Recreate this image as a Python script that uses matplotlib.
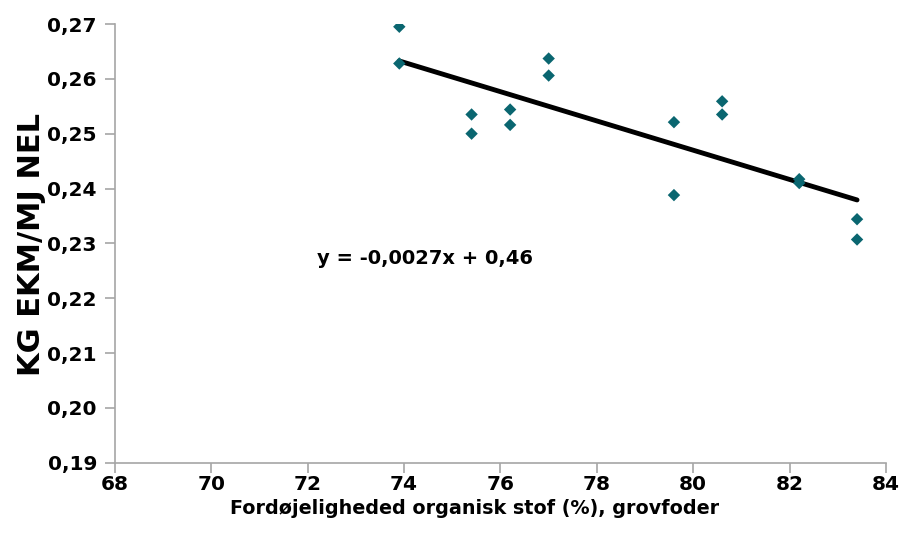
import numpy as np
import matplotlib.pyplot as plt

# digestibility of organic matter (%) in roughage
x_vals = [73.9, 73.9, 75.4, 75.4, 76.2, 76.2, 77.0, 77.0,
          79.6, 79.6, 80.6, 80.6, 82.2, 82.2, 83.4, 83.4]
# kg ECM per MJ NEL
y_vals = [0.2695, 0.2628, 0.2535, 0.2500, 0.2544, 0.2516, 0.2637, 0.2606,
          0.2521, 0.2388, 0.2559, 0.2535, 0.2417, 0.2410, 0.2344, 0.2307]

x_ticks = [68, 70, 72, 74, 76, 78, 80, 82, 84]
y_ticks = [0.19, 0.20, 0.21, 0.22, 0.23, 0.24, 0.25, 0.26, 0.27]

eq_text = "y = -0,0027x + 0,46"
x_title = "Fordøjeligheded organisk stof (%), grovfoder"
y_title = "KG EKM/MJ NEL"

plt.rcParams['font.family'] = ['DejaVu Sans']
plt.rcParams['font.weight'] = 'bold'

fig = plt.figure(figsize=(9, 5.37), dpi=100)
ax = fig.add_axes([0.1278, 0.1384, 0.8566, 0.8169])

x = np.array(x_vals)
y = np.array(y_vals)

# linear trendline
k, b = np.polyfit(x, y, 1)
xl = np.array([x.min(), x.max()])
ax.plot(xl, k * xl + b, color='black', lw=3.5, solid_capstyle='round', zorder=2)

ax.scatter(x, y, marker='D', s=40, color='#0a6670', edgecolors='none', zorder=3)

ax.text(72.2, 0.2273, eq_text, fontsize=14, fontweight='bold', ha='left', va='center')

ax.set_xlim(68, 84)
ax.set_ylim(0.19, 0.27)
ax.set_xticks(x_ticks)
ax.set_yticks(y_ticks)
ax.set_xticklabels([str(v) for v in x_ticks])
ax.set_yticklabels([f"{v:.2f}".replace('.', ',') for v in y_ticks])

for s in ['top', 'right']:
    ax.spines[s].set_visible(False)
for s in ['left', 'bottom']:
    ax.spines[s].set_color('#a6a6a6')
    ax.spines[s].set_linewidth(1.2)

ax.tick_params(axis='both', colors='#a6a6a6', length=7, width=1.2,
               labelcolor='black', labelsize=14.5)
ax.tick_params(axis='x', pad=2)
ax.tick_params(axis='y', pad=6)

# axis titles placed like the original (x title sits a bit left of centre)
fig.text(475 / 900, 1 - 508 / 537, x_title, fontsize=13.8, fontweight='bold',
         ha='center', va='center')
fig.text(32 / 900, 1 - 245 / 537, y_title, fontsize=22, fontweight='bold',
         ha='center', va='center', rotation=90)

fig.savefig("out.png", dpi=100)
